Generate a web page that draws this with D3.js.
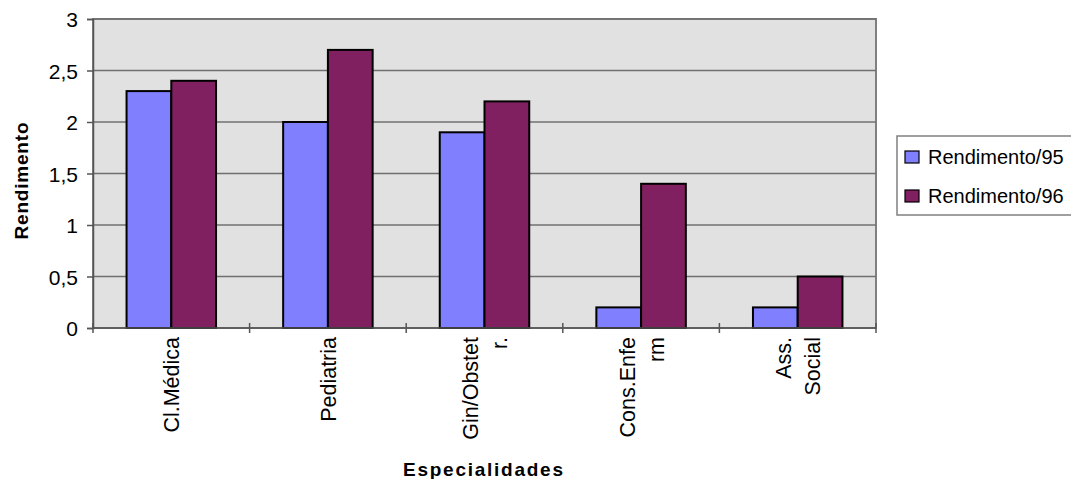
<!DOCTYPE html>
<html>
<head>
<meta charset="utf-8">
<script src="https://cdn.jsdelivr.net/npm/d3@7"></script>
<style>
body { margin: 0; background: #fff; }
text { font-family: "Liberation Sans", Arial, sans-serif; }
</style>
</head>
<body>
<svg width="1071" height="479"></svg>
<script>
// chart data
var categories = [["Cl.Médica"], ["Pediatria"], ["Gin/Obstet", "r."], ["Cons.Enfe", "rm"], ["Ass.", "Social"]]
var series = ["Rendimento/95", "Rendimento/96"]
var rend95 = [2.3, 2.0, 1.9, 0.2, 0.2]
var rend96 = [2.4, 2.7, 2.2, 1.4, 0.5]
var yTicks = [0, 0.5, 1, 1.5, 2, 2.5, 3]
var colors = ["#8080ff", "#802060"]

var plot = {left: 93, right: 876, top: 19, bottom: 328}
var svg = d3.select("svg")

var x = d3.scaleBand()
    .domain(d3.range(categories.length))
    .range([plot.left, plot.right])
    .paddingInner(0).paddingOuter(0)

var inner = d3.scaleBand()
    .domain([0, 1])
    .range([0, x.bandwidth()])
    .paddingOuter(0.75).paddingInner(0)

var y = d3.scaleLinear().domain([0, 3]).range([plot.bottom, plot.top])

// plot background
svg.append("rect")
    .attr("x", plot.left).attr("y", plot.top)
    .attr("width", plot.right - plot.left).attr("height", plot.bottom - plot.top)
    .attr("fill", "#e1e1e1")
    .attr("stroke", "#808080").attr("stroke-width", 2)

// gridlines
svg.append("g").selectAll("line")
    .data(yTicks.filter(function(d){ return d > 0 }))
    .enter().append("line")
    .attr("x1", plot.left).attr("x2", plot.right)
    .attr("y1", function(d){ return y(d) }).attr("y2", function(d){ return y(d) })
    .attr("stroke", "#707070").attr("stroke-width", 1.5)

// bars
var data = []
for (var i = 0; i < categories.length; i++) {
    data.push({c: i, s: 0, v: rend95[i]})
    data.push({c: i, s: 1, v: rend96[i]})
}
svg.append("g").selectAll("rect")
    .data(data)
    .enter().append("rect")
    .attr("x", function(d){ return x(d.c) + inner(d.s) })
    .attr("y", function(d){ return y(d.v) })
    .attr("width", inner.bandwidth())
    .attr("height", function(d){ return y(0) - y(d.v) })
    .attr("fill", function(d){ return colors[d.s] })
    .attr("stroke", "#000").attr("stroke-width", 2)

// y axis
var yAxis = d3.axisLeft(y)
    .tickValues(yTicks)
    .tickSize(6)
    .tickFormat(function(d){ return String(d).replace(".", ",") })
var yg = svg.append("g").attr("transform", "translate(" + plot.left + ",0)").call(yAxis)
yg.select(".domain").attr("stroke", "#555").attr("stroke-width", 1.5)
yg.selectAll(".tick line").attr("stroke", "#555").attr("stroke-width", 1.5)
yg.selectAll(".tick text").attr("font-size", 21).attr("fill", "#000").attr("x", -15).attr("dy", "0.36em")

// x axis
var bounds = d3.range(categories.length + 1).map(function(i){ return plot.left + i * x.step() })
svg.append("line")
    .attr("x1", plot.left).attr("x2", plot.right)
    .attr("y1", plot.bottom).attr("y2", plot.bottom)
    .attr("stroke", "#555").attr("stroke-width", 1.5)
svg.append("g").selectAll("line")
    .data(bounds)
    .enter().append("line")
    .attr("x1", function(d){ return d }).attr("x2", function(d){ return d })
    .attr("y1", plot.bottom - 5).attr("y2", plot.bottom + 5)
    .attr("stroke", "#555").attr("stroke-width", 1.5)

// category labels, rotated
var lab = svg.append("g").selectAll("text")
    .data(categories)
    .enter().append("text")
    .attr("transform", function(d, i){
        var cx = x(i) + x.bandwidth() / 2
        return "translate(" + cx + "," + (plot.bottom + 9) + ") rotate(-90)"
    })
    .attr("text-anchor", "end")
    .attr("font-size", 21.5)
    .attr("fill", "#000")
lab.selectAll("tspan")
    .data(function(d){ return d.map(function(t, k){ return {t: t, k: k, n: d.length} }) })
    .enter().append("tspan")
    .attr("x", 0)
    .attr("y", function(d){ return (d.k - (d.n - 1) / 2) * 29 + 8 })
    .text(function(d){ return d.t })

// axis titles
svg.append("text")
    .attr("transform", "translate(28,181) rotate(-90)")
    .attr("text-anchor", "middle")
    .attr("font-size", 19).attr("font-weight", "bold")
    .attr("textLength", 117).attr("lengthAdjust", "spacing")
    .text("Rendimento")

svg.append("text")
    .attr("x", 483).attr("y", 476)
    .attr("text-anchor", "middle")
    .attr("font-size", 19).attr("font-weight", "bold")
    .attr("textLength", 160).attr("lengthAdjust", "spacing")
    .text("Especialidades")

// legend
var lg = svg.append("g").attr("transform", "translate(897,136)")
lg.append("rect")
    .attr("x", 0).attr("y", 0).attr("width", 180).attr("height", 79)
    .attr("fill", "#fff").attr("stroke", "#808080").attr("stroke-width", 1.5)
var item = lg.selectAll(".item")
    .data(series)
    .enter().append("g")
    .attr("transform", function(d, i){ return "translate(8," + (21 + i * 39) + ")" })
item.append("rect")
    .attr("x", 0).attr("y", -6).attr("width", 14).attr("height", 12)
    .attr("fill", function(d, i){ return colors[i] })
    .attr("stroke", "#000").attr("stroke-width", 1.2)
item.append("text")
    .attr("x", 23).attr("y", 7)
    .attr("font-size", 20)
    .text(function(d){ return d })
</script>
</body>
</html>
